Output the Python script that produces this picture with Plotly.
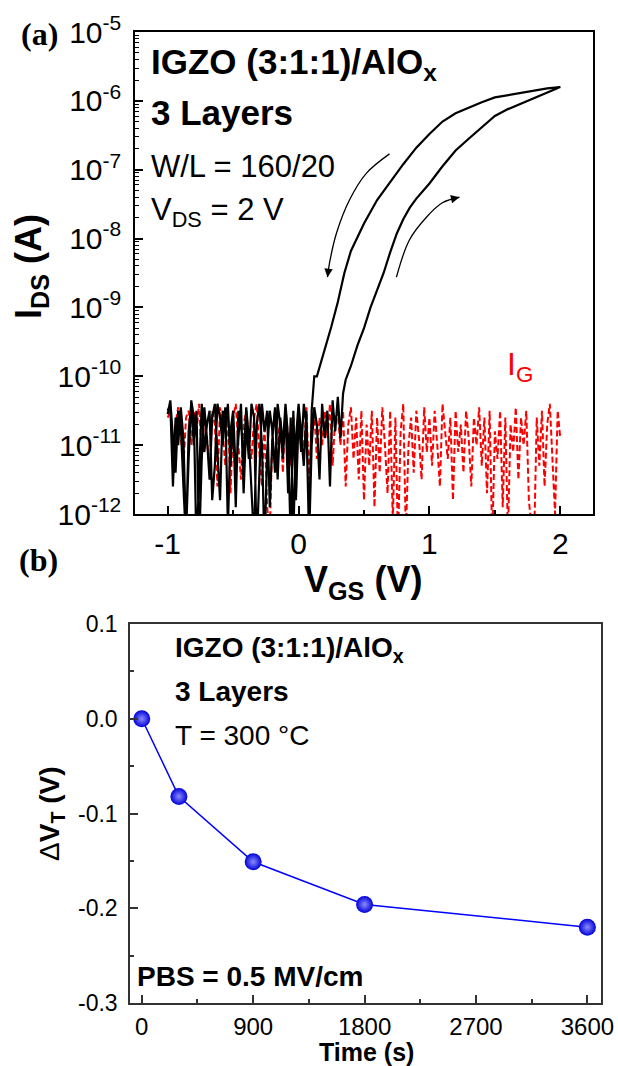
import numpy as np
import plotly.graph_objects as go

W, H = 618, 1066

# ---------------- Panel (a): transfer curve (log10 of current) ----------------
step = 0.02
vgs_fwd_off = np.round(np.arange(-1.0, 0.3401, step), 2)          # forward sweep, off-state
ids_fwd_off_log = [
    -10.55, -10.35, -10.9, -11.4, -10.5, -10.7, -11.6, -12.4, -10.8, -10.4,
    -11.0, -10.5, -12.5, -11.2, -10.45, -10.9, -11.5, -10.6, -10.4, -11.1,
    -11.8, -10.5, -10.8, -10.4, -11.3, -10.6, -11.9, -10.5, -10.7, -11.2,
    -10.45, -10.9, -11.6, -12.4, -10.7, -10.4, -11.0, -12.5, -11.1, -10.5,
    -10.8, -11.4, -10.4, -10.7, -11.2, -10.5, -11.7, -10.6, -12.3, -10.9,
    -10.4, -10.8, -11.3, -10.5, -12.4, -11.0, -10.45, -10.7, -11.5, -10.4,
    -10.9, -10.5, -11.6, -10.35, -10.8, -10.3, -10.9, -10.25,
]
vgs_fwd_on = [0.36, 0.40, 0.45, 0.50, 0.55, 0.60, 0.65, 0.70, 0.75, 0.80, 0.85,
              0.90, 1.00, 1.10, 1.20, 1.30, 1.40, 1.50, 1.60, 1.70, 1.80, 1.90, 2.00]
ids_fwd_on_log = [-10.05, -9.85, -9.55, -9.3, -9.0, -8.75, -8.5, -8.2, -7.93, -7.72, -7.55,
                  -7.42, -7.2, -6.95, -6.72, -6.55, -6.38, -6.22, -6.12, -6.04, -5.96, -5.88, -5.8]
vgs_rev_on = [1.90, 1.80, 1.70, 1.60, 1.50, 1.40, 1.30, 1.20, 1.10, 1.00, 0.90, 0.80,
              0.70, 0.60, 0.50, 0.45, 0.40, 0.35, 0.30, 0.25, 0.20, 0.16, 0.14, 0.12]
ids_rev_on_log = [-5.82, -5.85, -5.88, -5.91, -5.95, -6.02, -6.1, -6.18, -6.3, -6.48, -6.68, -6.92,
                  -7.18, -7.44, -7.78, -7.98, -8.18, -8.5, -8.92, -9.28, -9.6, -9.85, -10.0, -10.0]
vgs_rev_off = np.round(np.arange(0.10, -1.0001, -step), 2)        # reverse sweep, off-state
ids_rev_off_log = [
    -10.5, -12.3, -10.7, -10.4, -11.1, -10.6, -11.8, -10.5, -12.4, -10.9,
    -10.4, -11.0, -10.6, -11.5, -10.45, -10.9, -11.9, -10.5, -10.8, -10.4,
    -11.3, -12.5, -10.6, -10.4, -11.2, -10.7, -11.7, -10.4, -10.9, -11.4,
    -10.5, -10.8, -12.2, -10.45, -11.0, -10.6, -10.4, -11.3, -11.8, -10.5,
    -10.7, -11.1, -10.4, -11.5, -12.5, -10.6, -10.35, -11.2, -12.3, -10.9,
    -10.45, -11.0, -10.6, -11.6, -10.4, -10.5,
]
vgs_ig = np.round(np.arange(-1.0, 2.0001, step), 2)
ig_log = [
    -10.6, -10.5, -11.1, -10.7, -10.45, -10.9, -11.3, -10.6, -10.5, -11.0,
    -10.5, -10.8, -10.4, -11.2, -10.6, -10.9, -11.4, -10.5, -10.7, -11.6,
    -10.45, -10.8, -11.3, -10.5, -11.7, -10.6, -10.4, -11.0, -11.5, -10.7,
    -10.5, -10.9, -11.2, -10.6, -10.4, -11.1, -11.6, -10.7, -11.9, -12.3,
    -10.8, -10.5, -11.0, -10.6, -11.4, -10.45, -10.9, -11.3, -10.6, -11.7,
    -10.5, -10.8, -11.1, -10.45, -11.5, -10.7, -10.5, -11.2, -10.6, -11.0,
    -10.5, -10.9, -10.4, -11.3, -10.6, -10.55, -11.0, -10.5, -11.6, -10.7,
    -10.45, -11.2, -10.6, -11.5, -10.5, -11.8, -10.7, -11.3, -10.5, -11.9,
    -10.6, -11.4, -10.45, -11.0, -11.7, -10.5, -12.1, -10.6, -12.4, -10.8,
    -10.4, -12.3, -11.0, -10.6, -11.4, -10.5, -10.9, -11.5, -10.45, -11.1,
    -10.6, -11.3, -10.5, -11.0, -11.6, -10.4, -10.8, -11.2, -10.6, -11.8,
    -10.5, -11.1, -10.7, -11.4, -10.5, -10.9, -11.6, -10.6, -11.0, -10.45,
    -11.3, -10.6, -11.7, -10.5, -12.4, -10.8, -11.2, -10.5, -11.9, -10.6,
    -12.3, -10.7, -11.1, -10.45, -11.5, -10.6, -11.0, -10.5, -11.8, -12.2,
    -12.4, -10.6, -11.3, -10.5, -11.6, -10.7, -10.4, -11.2, -12.0, -10.5,
    -10.9,
]
assert len(vgs_fwd_off) == len(ids_fwd_off_log)
assert len(vgs_rev_off) == len(ids_rev_off_log)
assert len(vgs_ig) == len(ig_log)

# sweep-direction arrows (V, log10 I)
arrow_rev_v = [0.695, 0.519, 0.389, 0.29, 0.237, 0.221]
arrow_rev_log = [-6.77, -7.05, -7.44, -7.92, -8.35, -8.56]
arrow_fwd_v = [0.748, 0.847, 0.977, 1.099, 1.229]
arrow_fwd_log = [-8.56, -8.02, -7.69, -7.48, -7.40]

x_ticks_a = [-1, 0, 1, 2]
x_minor_a = [-0.5, 0.5, 1.5]
y_exp_a = [-12, -11, -10, -9, -8, -7, -6, -5]
y_minor_mult = [2, 3, 4, 5, 6, 7, 8, 9]

# ---------------- Panel (b): threshold-voltage shift ----------------
time_s = [0, 300, 900, 1800, 3600]
dvt = [0.0, -0.082, -0.151, -0.196, -0.220]
x_ticks_b = [0, 900, 1800, 2700, 3600]
x_minor_b = [450, 1350, 2250, 3150]
y_ticks_b = [-0.3, -0.2, -0.1, 0.0, 0.1]
y_minor_b = [-0.25, -0.15, -0.05, 0.05]

SANS = "Liberation Sans, Arial, sans-serif"
SERIF = "Liberation Serif, Times New Roman, serif"

def px(x):
    return x / W

def py(y):
    return 1 - y / H

fig = go.Figure()

v_black = list(vgs_fwd_off) + vgs_fwd_on + vgs_rev_on + list(vgs_rev_off)
log_black = ids_fwd_off_log + ids_fwd_on_log + ids_rev_on_log + ids_rev_off_log
fig.add_trace(go.Scatter(x=list(vgs_ig), y=[10 ** v for v in ig_log], mode="lines",
                         line=dict(color="#ff0000", width=2, dash="6px,3px"),
                         xaxis="x", yaxis="y"))
fig.add_trace(go.Scatter(x=v_black, y=[10 ** v for v in log_black], mode="lines",
                         line=dict(color="black", width=2.2),
                         xaxis="x", yaxis="y"))
fig.add_trace(go.Scatter(x=arrow_rev_v, y=[10 ** v for v in arrow_rev_log], mode="lines",
                         line=dict(color="black", width=1.3, shape="spline"),
                         xaxis="x", yaxis="y"))
fig.add_trace(go.Scatter(x=arrow_fwd_v, y=[10 ** v for v in arrow_fwd_log], mode="lines",
                         line=dict(color="black", width=1.3, shape="spline"),
                         xaxis="x", yaxis="y"))

fig.add_trace(go.Scatter(x=time_s, y=dvt, mode="lines+markers",
                         line=dict(color="#0000ff", width=1.5),
                         marker=dict(size=17, color="#0000d8",
                                     gradient=dict(type="radial", color="#8c8cff"),
                                     line=dict(width=0)),
                         xaxis="x2", yaxis="y2"))

axis_common = dict(showline=True, mirror=True, linewidth=1.5, ticks="inside",
                   tickwidth=1.5, showgrid=False, zeroline=False, automargin=False)

fig.update_layout(
    width=W, height=H, margin=dict(l=0, r=0, t=0, b=0, autoexpand=False),
    paper_bgcolor="white", plot_bgcolor="white", showlegend=False,
    xaxis=dict(domain=[px(135), px(593)], range=[-1.25, 2.25], anchor="y",
               tickvals=x_ticks_a, ticktext=[str(v) for v in x_ticks_a],
               ticklen=8, linecolor="black", tickcolor="black",
               minor=dict(ticks="inside", ticklen=4, tickmode="array", tickvals=x_minor_a,
                          tickcolor="black", tickwidth=1.5),
               tickfont=dict(family=SANS, size=30, color="black"), ticklabelstandoff=2,
               **axis_common),
    yaxis=dict(domain=[py(514), py(32)], type="log", range=[-12, -5], anchor="x",
               tickvals=[10.0 ** e for e in y_exp_a],
               ticktext=["10<sup>%d</sup>" % e for e in y_exp_a],
               ticklen=8, linecolor="black", tickcolor="black",
               minor=dict(ticks="inside", ticklen=4, tickmode="array",
                          tickvals=[m * 10.0 ** e for e in y_exp_a[:-1] for m in y_minor_mult],
                          tickcolor="black", tickwidth=1.2),
               tickfont=dict(family=SANS, size=30, color="black"), ticklabelstandoff=6,
               **axis_common),
    xaxis2=dict(domain=[px(130), px(601)], range=[-95, 3710], anchor="y2",
                tickvals=x_ticks_b, ticktext=[str(v) for v in x_ticks_b],
                ticklen=8, linecolor="#333333", tickcolor="#333333",
                minor=dict(ticks="inside", ticklen=4, tickmode="array", tickvals=x_minor_b,
                           tickcolor="#333333", tickwidth=1.5),
                tickfont=dict(family=SANS, size=24, color="black"), ticklabelstandoff=1,
                **axis_common),
    yaxis2=dict(domain=[py(1003), py(624)], range=[-0.3, 0.1], anchor="x2",
                tickvals=y_ticks_b, ticktext=["%.1f" % v for v in y_ticks_b],
                ticklen=8, linecolor="#333333", tickcolor="#333333",
                minor=dict(ticks="inside", ticklen=4, tickmode="array", tickvals=y_minor_b,
                           tickcolor="#333333", tickwidth=1.5),
                tickfont=dict(family=SANS, size=23, color="black"), ticklabelstandoff=6,
                **axis_common),
)

def txt(text, x, y, size, xanchor="left", color="black", family=SANS, angle=0, pad=1):
    fig.add_annotation(text=text, x=px(x), y=py(y), xref="paper", yref="paper",
                       xanchor=xanchor, yanchor="middle", showarrow=False, borderpad=pad,
                       textangle=angle, font=dict(family=family, size=size, color=color))

# panel (a) texts
txt("<b>(a)</b>", 39, 34, 32, xanchor="center", family=SERIF)
txt("<b>IGZO (3:1:1)/AlO<sub>x</sub></b>", 149, 64, 35)
txt("<b>3 Layers</b>", 149, 113, 35)
txt("W/L = 160/20", 149, 167, 31)
txt("V<sub>DS</sub> = 2 V", 149, 212, 31)
txt("I<sub>G</sub>", 505, 366, 32, color="#ff0000")
txt("<b>I<sub>DS</sub> (A)</b>", 31, 267, 36, xanchor="center", angle=-90)
txt("<b>V<sub>GS</sub> (V)</b>", 363, 582, 36, xanchor="center")

# panel (b) texts
txt("<b>(b)</b>", 38, 560, 32, xanchor="center", family=SERIF)
txt("<b>IGZO (3:1:1)/AlO<sub>x</sub></b>", 173, 649, 28)
txt("<b>3 Layers</b>", 173, 691, 28)
txt("T = 300 °C", 173, 735, 28)
txt("<b>PBS = 0.5 MV/cm</b>", 135, 976, 28)
txt("Δ<b>V<sub>T</sub> (V)</b>", 51, 814, 28, xanchor="center", angle=-90)
txt("<b>Time (s)</b>", 366, 1052, 25, xanchor="center", pad=0)

# arrowheads of the sweep-direction arrows
fig.add_annotation(x=arrow_rev_v[-1], y=arrow_rev_log[-1], ax=0.229, ay=-8.44,
                   xref="x", yref="y", axref="x", ayref="y", text="", showarrow=True,
                   arrowhead=2, arrowsize=1.3, arrowwidth=1.3, arrowcolor="black", standoff=0)
fig.add_annotation(x=arrow_fwd_v[-1], y=arrow_fwd_log[-1], ax=1.16, ay=-7.43,
                   xref="x", yref="y", axref="x", ayref="y", text="", showarrow=True,
                   arrowhead=2, arrowsize=1.3, arrowwidth=1.3, arrowcolor="black", standoff=0)

fig.write_html("out.html", config={"displayModeBar": False},
               post_script="document.body.style.margin='0';document.body.style.padding='0';")
